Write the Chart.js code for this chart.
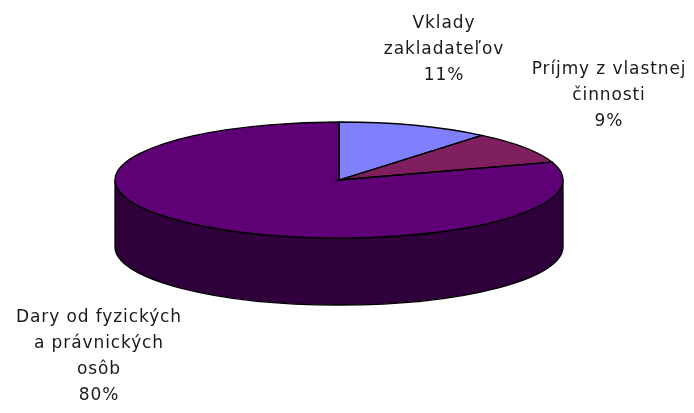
<!DOCTYPE html>
<html>
<head>
<meta charset="utf-8">
<script src="https://cdn.jsdelivr.net/npm/chart.js@4"></script>
<style>
  html, body { margin: 0; background: #fff; }
  #wrap { width: 694px; height: 413px; }
</style>
</head>
<body>
<div id="wrap"><canvas id="pie" width="694" height="413"></canvas></div>
<script>
// --- data --- //
const categories = ['Vklady zakladateľov', 'Príjmy z vlastnej činnosti', 'Dary od fyzických a právnických osôb'];
const labelLines = [['Vklady', 'zakladateľov'], ['Príjmy z vlastnej', 'činnosti'], ['Dary od fyzických', 'a právnických', 'osôb']];
const shares = [11, 9, 80];

// --- style / layout --- //
const topColors = ['#8080ff', '#7f1f5f', '#5f0077'];
const sideColors = ['#40407f', '#3f0f2f', '#2f003b'];
const E = { cx: 339, cy: 180, rx: 224, ry: 58, depth: 67 };   // ellipse of the top face
const labelPos = [{ x: 444, y: 50 }, { x: 609, y: 96 }, { x: 99, y: 357 }];
const LH = 26;

// flattened pie: wall under the top face, top face squashed from the chart's own arcs
const pie3d = {
  id: 'pie3d',
  beforeDatasetsDraw(chart) {
    const ctx = chart.ctx;
    const arcs = chart.getDatasetMeta(0).data;
    const { x, y, outerRadius } = arcs[0];

    // front wall (angles 0..PI are the near side)
    arcs.forEach((arc, i) => {
      const a0 = Math.max(arc.startAngle, 0);
      const a1 = Math.min(arc.endAngle, Math.PI);
      if (a1 <= a0) return;
      ctx.beginPath();
      ctx.ellipse(E.cx, E.cy, E.rx, E.ry, 0, a0, a1);
      ctx.ellipse(E.cx, E.cy + E.depth, E.rx, E.ry, 0, a1, a0, true);
      ctx.closePath();
      ctx.fillStyle = sideColors[i];
      ctx.fill();
      ctx.lineWidth = 1.3;
      ctx.strokeStyle = '#000';
      ctx.stroke();
    });

    ctx.save();
    ctx.translate(E.cx, E.cy);
    ctx.scale(E.rx / outerRadius, E.ry / outerRadius);
    ctx.translate(-x, -y);
  },
  afterDatasetsDraw(chart) {
    const ctx = chart.ctx;
    ctx.restore();
    const arcs = chart.getDatasetMeta(0).data;

    // slice outlines
    ctx.lineWidth = 1.3;
    ctx.strokeStyle = '#000';
    arcs.forEach(arc => {
      ctx.beginPath();
      ctx.moveTo(E.cx, E.cy);
      ctx.ellipse(E.cx, E.cy, E.rx, E.ry, 0, arc.startAngle, arc.endAngle);
      ctx.closePath();
      ctx.stroke();
    });

    // labels
    const total = shares.reduce((a, b) => a + b, 0);
    ctx.font = '17px "DejaVu Sans"';
    ctx.letterSpacing = '0.9px';
    ctx.fillStyle = '#1a1a1a';
    ctx.textAlign = 'center';
    ctx.textBaseline = 'middle';
    arcs.forEach((arc, i) => {
      const lines = [...labelLines[i], Math.round(shares[i] / total * 100) + '%'];
      const p = labelPos[i];
      const top = p.y - (lines.length - 1) * LH / 2;
      lines.forEach((t, k) => ctx.fillText(t, p.x, top + k * LH));
    });
  }
};

new Chart(document.getElementById('pie'), {
  type: 'pie',
  data: {
    labels: categories,
    datasets: [{
      data: shares,
      backgroundColor: topColors,
      borderWidth: 0,
      clip: false
    }]
  },
  options: {
    responsive: false,
    animation: false,
    devicePixelRatio: 1,
    events: [],
    plugins: {
      legend: { display: false },
      tooltip: { enabled: false }
    }
  },
  plugins: [pie3d]
});
</script>
</body>
</html>
